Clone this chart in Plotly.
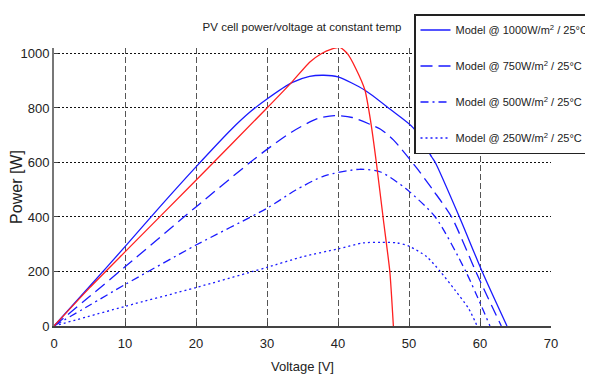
import plotly.graph_objects as go

# ---- data ----
v_1000 = [0, 5, 10, 15, 20, 25, 27.6, 30, 33.5, 36, 38, 40, 43.8, 47.4, 50.6, 53.2, 53.7, 57.1, 60.3, 63.8]
p_1000 = [0, 145, 291, 440, 584, 722, 785, 833, 893, 916, 920, 914, 865, 794, 727, 620, 600, 400, 200, 0]

v_750 = [0, 5, 10, 20, 27.6, 30, 33.5, 37, 39.5, 42, 44.5, 46, 47.8, 51.1, 53.4, 56.0, 59.4, 63.0]
p_750 = [0, 108, 217, 437, 600, 648, 712, 760, 772, 765, 740, 722, 683, 579, 498, 400, 200, 0]

v_500 = [0, 5, 10, 20, 30, 34, 38, 43, 46, 49.5, 53.7, 58.0, 61.4]
p_500 = [0, 76, 152, 297, 432, 498, 550, 575, 565, 505, 400, 200, 0]

v_250 = [0, 10, 20, 28, 30, 35, 40, 43.6, 46, 48.3, 50, 52.5, 54.4, 56.5, 58.4, 59.6]
p_250 = [0, 72, 141, 200, 215, 254, 283, 305, 307, 305, 293, 254, 200, 131, 64, 0]

v_ref = [0, 5, 10, 20, 30, 33.5, 36, 37.7, 39, 40.3, 41.3, 42.5, 43.8, 44.6, 45.4, 46.4, 47.3, 47.8]
p_ref = [0, 140, 272, 535, 800, 895, 968, 1000, 1015, 1022, 1000, 945, 865, 751, 600, 388, 200, 0]

labels = [
    "Model @ 1000W/m<sup>2</sup> / 25°C",
    "Model @ 750W/m<sup>2</sup> / 25°C",
    "Model @ 500W/m<sup>2</sup> / 25°C",
    "Model @ 250W/m<sup>2</sup> / 25°C",
]
x_ticks = [0, 10, 20, 30, 40, 50, 60, 70]
y_ticks = [0, 200, 400, 600, 800, 1000]

FONT = "Liberation Sans, Arial, sans-serif"
BLUE = "#1a1aff"

fig = go.Figure()
series = [(v_1000, p_1000, "solid"), (v_750, p_750, "12px,6px"),
          (v_500, p_500, "8px,4px,2px,4px"), (v_250, p_250, "2px,3px")]
for i, ((vx, py, dash), name) in enumerate(zip(series, labels)):
    fig.add_trace(go.Scatter(
        x=vx, y=py, mode="lines", name=name, legendgroup=f"g{i}",
        line=dict(color=BLUE, width=1.3, dash=dash, shape="spline", smoothing=0.7),
    ))
fig.add_trace(go.Scatter(
    x=v_ref, y=p_ref, mode="lines", showlegend=False,
    line=dict(color="#ff2020", width=1.3, shape="spline", smoothing=0.5),
))

# the page body adds an 8px offset; margins compensate for it
L, R, T, B = 46, 50, 40, 63
pw = 593 - L - R
ph = 381 - T - B

fig.update_layout(
    width=593, height=381,
    margin=dict(l=L, r=R, t=T, b=B, autoexpand=False),
    paper_bgcolor="white", plot_bgcolor="white",
    title=dict(text="PV cell power/voltage at constant temp", x=294 / 593, xanchor="center",
               y=1 - 19 / 381, yanchor="middle",
               font=dict(family=FONT, size=11.5, color="#222")),
    legend=dict(
        x=360 / pw, xanchor="left", y=(381 - B - 6) / ph, yanchor="top",
        bordercolor="#222", borderwidth=1.5, bgcolor="white",
        font=dict(family=FONT, size=11, color="#222"),
        traceorder="grouped", tracegroupgap=17,
    ),
    xaxis=dict(
        range=[0, 70], tickvals=x_ticks, ticktext=[str(t) for t in x_ticks],
        showgrid=True, gridcolor="#555", griddash="6px,3px", gridwidth=1.2,
        showline=True, linecolor="#444", linewidth=2,
        ticks="inside", ticklen=4, tickcolor="#444",
        zeroline=False, ticklabelstandoff=4,
        tickfont=dict(family=FONT, size=13, color="#222"),
        title=dict(text="Voltage [V]", standoff=12,
                   font=dict(family=FONT, size=13, color="#222")),
    ),
    yaxis=dict(
        range=[0, 1020], tickvals=y_ticks, ticktext=[str(t) for t in y_ticks],
        showgrid=True, gridcolor="#111", griddash="2px,2px", gridwidth=1.2,
        showline=True, linecolor="#777", linewidth=2,
        ticks="inside", ticklen=4, tickcolor="#444",
        zeroline=False,
        tickfont=dict(family=FONT, size=13, color="#222"),
        title=dict(text="Power [W]", standoff=10,
                   font=dict(family=FONT, size=16, color="#222")),
    ),
)

fig.write_html("out.html")
